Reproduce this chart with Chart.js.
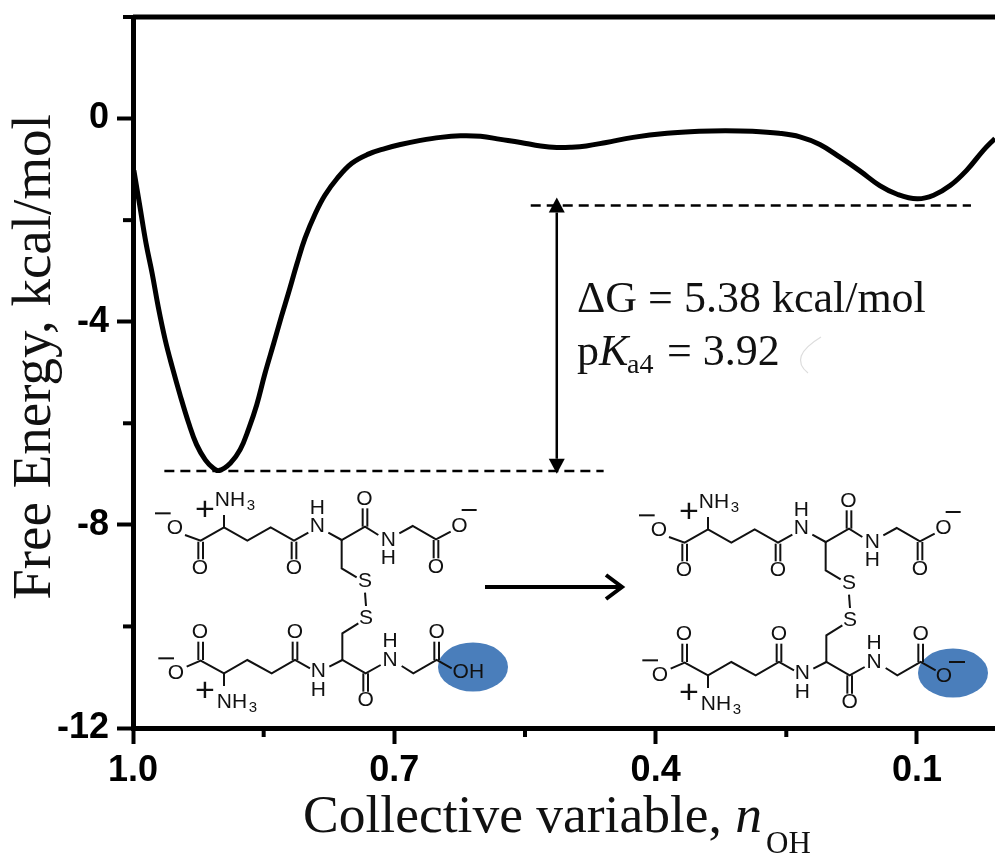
<!DOCTYPE html>
<html lang="en">
<head>
<meta charset="UTF-8">
<title>Free energy profile</title>
<script src="https://cdn.jsdelivr.net/npm/chart.js"></script>
<style>
  html, body { margin: 0; padding: 0; background: #fff; }
  canvas { display: block; }
</style>
</head>
<body>
<canvas id="myChart" width="995" height="854"></canvas>
<script>
// values
const nValues = [0.999, 0.992, 0.985, 0.978, 0.971, 0.963, 0.955, 0.946, 0.936, 0.927, 0.917, 0.908, 0.901, 0.888, 0.877, 0.867, 0.858, 0.8485, 0.8385, 0.8295, 0.8216, 0.8116, 0.8026, 0.7907, 0.7797, 0.7657, 0.7488, 0.7298, 0.7109, 0.693, 0.670, 0.647, 0.624, 0.601, 0.578, 0.555, 0.532, 0.5135, 0.4966, 0.4796, 0.4567, 0.4258, 0.3869, 0.350, 0.320, 0.289, 0.2583, 0.2344, 0.2115, 0.1885, 0.1656, 0.1427, 0.1227, 0.0998, 0.0809, 0.0619, 0.043, 0.024, 0.0104];
const energyValues = [-1.02, -1.74, -2.46, -3.05, -3.71, -4.36, -4.89, -5.44, -6.00, -6.42, -6.72, -6.88, -6.93, -6.78, -6.52, -6.10, -5.64, -5.02, -4.43, -3.89, -3.44, -2.85, -2.36, -1.87, -1.51, -1.18, -0.88, -0.70, -0.59, -0.51, -0.43, -0.37, -0.34, -0.35, -0.41, -0.47, -0.54, -0.57, -0.565, -0.54, -0.47, -0.37, -0.29, -0.25, -0.24, -0.25, -0.29, -0.36, -0.51, -0.76, -1.03, -1.32, -1.49, -1.58, -1.51, -1.32, -1.02, -0.63, -0.39];

const upperDashN = [0.5434, 0.038];
const upperDashE = [-1.71, -1.71];
const lowerDashN = [0.964, 0.4597];
const lowerDashE = [-6.94, -6.94];
const arrowN = [0.5135, 0.5135];
const arrowE = [-1.85, -6.70];

const xMajorTicks = [1.0, 0.7, 0.4, 0.1];
const xMinorTicks = [0.85, 0.55, 0.25];
const yMajorTicks = [0, -4, -8, -12];
const yMinorTicks = [2, -2, -6, -10];

const yTitle = 'Free Energy, kcal/mol';
const xTitle = 'Collective variable, ';

function toPoints(xs, ys) {
  return xs.map((x, i) => ({ x: x, y: ys[i] }));
}

// glutathione disulfide sketch, coordinates in 1/3 px from the inset origin
const molBonds = [
  [165,195,212,212,282,172,352,212,422,172,492,212,535,188],
  [282,172,282,135],
  [595,188,635,210,705,170,745,195],
  [808,190,848,168,918,208,962,185],
  [635,210,635,295,680,322],
  [705,368,708,408],
  [685,460,637,490,637,570],
  [170,590,212,572,282,610,352,570,425,610,495,570,540,595],
  [282,610,282,648],
  [598,590,637,570,707,610,752,585],
  [815,588,850,610,920,570,965,595],
  // double bonds
  [205,215,205,268],[219,215,219,268],
  [485,215,485,268],[499,215,499,268],
  [698,170,698,115],[712,170,712,115],
  [911,210,911,265],[925,210,925,265],
  [205,570,205,515],[219,570,219,515],
  [488,570,488,515],[502,570,502,515],
  [700,610,700,665],[714,610,714,665],
  [913,570,913,515],[927,570,927,515],
  // charges
  [75,130,122,130],[995,120,1040,120],[85,565,132,565]
];
const molAtoms = [
  ['O',135,175],['O',210,295],['O',492,295],['N',562,170],['H',562,115],
  ['O',703,88],['N',775,210],['H',775,265],['O',988,170],['O',918,292],
  ['S',705,335],['S',708,445],
  ['O',138,610],['O',210,488],['O',495,488],['N',565,605],['H',565,660],
  ['O',707,692],['N',780,570],['H',780,515],['O',920,488]
];

function drawMolecule(ctx, ox, oy, acid) {
  ctx.save();
  ctx.translate(ox, oy);
  ctx.strokeStyle = '#111';
  ctx.lineWidth = 2;
  molBonds.forEach(b => {
    ctx.beginPath();
    ctx.moveTo(b[0] / 3, b[1] / 3);
    for (let i = 2; i < b.length; i += 2) ctx.lineTo(b[i] / 3, b[i + 1] / 3);
    ctx.stroke();
  });
  ctx.fillStyle = '#111';
  ctx.textAlign = 'center';
  ctx.textBaseline = 'middle';
  ctx.font = '21px "Liberation Sans"';
  molAtoms.forEach(a => {
    ctx.fillText(a[0], a[1] / 3, a[2] / 3);
  });
  ctx.fillText('NH', 100, 30);
  ctx.fillText('NH', 102, 232);
  if (acid) {
    ctx.fillText('OH', 1015 / 3, 607 / 3);
  } else {
    ctx.fillText('O', 990 / 3, 612 / 3);
    ctx.beginPath();
    ctx.moveTo(1005 / 3, 570 / 3);
    ctx.lineTo(1053 / 3, 570 / 3);
    ctx.stroke();
  }
  ctx.font = '15px "Liberation Sans"';
  ctx.fillText('3', 121, 36);
  ctx.fillText('3', 123, 238);
  ctx.font = '34px "Liberation Sans"';
  ctx.fillText('+', 75, 41);
  ctx.fillText('+', 75, 222);
  ctx.restore();
}

function blob(ctx, cx, cy) {
  ctx.fillStyle = '#4a7ebb';
  ctx.beginPath();
  ctx.ellipse(cx, cy, 35, 24.5, 0, 0, Math.PI * 2);
  ctx.fill();
}

const extras = {
  id: 'extras',
  afterDraw(chart) {
    const ctx = chart.ctx;
    const x = chart.scales.x;
    const y = chart.scales.y;
    const bottom = chart.chartArea.bottom;
    const left = chart.chartArea.left;
    ctx.save();

    // minor ticks and the top frame line
    ctx.strokeStyle = '#000';
    ctx.lineWidth = 4;
    xMinorTicks.forEach(v => {
      const px = x.getPixelForValue(v);
      ctx.beginPath();
      ctx.moveTo(px, bottom);
      ctx.lineTo(px, bottom + 9);
      ctx.stroke();
    });
    yMinorTicks.forEach(v => {
      const py = y.getPixelForValue(v);
      ctx.beginPath();
      ctx.moveTo(left, py);
      ctx.lineTo(left - 10, py);
      ctx.stroke();
    });
    ctx.lineWidth = 5;
    ctx.beginPath();
    ctx.moveTo(left, y.getPixelForValue(2));
    ctx.lineTo(chart.chartArea.right, y.getPixelForValue(2));
    ctx.stroke();

    // arrow heads on the double arrow
    const ax = x.getPixelForValue(arrowN[0]);
    const ay1 = y.getPixelForValue(arrowE[0]);
    const ay2 = y.getPixelForValue(arrowE[1]);
    ctx.fillStyle = '#000';
    ctx.beginPath();
    ctx.moveTo(ax, ay1 - 15);
    ctx.lineTo(ax + 8, ay1);
    ctx.lineTo(ax - 8, ay1);
    ctx.closePath();
    ctx.fill();
    ctx.beginPath();
    ctx.moveTo(ax, ay2 + 15);
    ctx.lineTo(ax + 8, ay2);
    ctx.lineTo(ax - 8, ay2);
    ctx.closePath();
    ctx.fill();

    // annotation text
    ctx.textBaseline = 'alphabetic';
    ctx.textAlign = 'left';
    ctx.fillStyle = '#111';
    ctx.font = '44px "Liberation Serif"';
    ctx.fillText('\u0394G = 5.38 kcal/mol', 577, 312);
    ctx.fillText('p', 577, 365);
    ctx.font = 'italic 44px "Liberation Serif"';
    ctx.fillText('K', 599, 365);
    ctx.font = '28px "Liberation Serif"';
    ctx.fillText('a4', 627, 373);
    ctx.font = '44px "Liberation Serif"';
    ctx.fillText('= 3.92', 667, 365);

    // axis titles
    ctx.font = '53.5px "Liberation Serif"';
    ctx.fillText(xTitle, 303, 832);
    const w = ctx.measureText(xTitle).width;
    ctx.font = 'italic 53.5px "Liberation Serif"';
    ctx.fillText('n', 303 + w, 832);
    ctx.font = '31px "Liberation Serif"';
    ctx.fillText('OH', 766, 853);

    ctx.save();
    ctx.translate(50, 357);
    ctx.rotate(-Math.PI / 2);
    ctx.textAlign = 'center';
    ctx.font = '55px "Liberation Serif"';
    ctx.fillText(yTitle, 0, 0);
    ctx.restore();

    // faint smudge next to the pKa value
    ctx.strokeStyle = '#ddd';
    ctx.lineWidth = 1.2;
    ctx.beginPath();
    ctx.moveTo(821, 337);
    ctx.quadraticCurveTo(788, 357, 808, 373);
    ctx.stroke();

    // reaction arrow
    ctx.strokeStyle = '#000';
    ctx.lineWidth = 4;
    ctx.beginPath();
    ctx.moveTo(485, 587);
    ctx.lineTo(620, 587);
    ctx.moveTo(606, 575);
    ctx.lineTo(622, 587);
    ctx.lineTo(606, 599);
    ctx.stroke();

    // inset structures
    blob(ctx, 473, 667);
    blob(ctx, 953, 673);
    drawMolecule(ctx, 130, 470, true);
    drawMolecule(ctx, 614, 472, false);

    ctx.restore();
  }
};

const tickFont = { family: '"Liberation Sans"', size: 36, weight: 'bold' };

new Chart(document.getElementById('myChart').getContext('2d'), {
  type: 'scatter',
  data: {
    datasets: [
      {
        label: 'Free energy',
        data: toPoints(nValues, energyValues),
        showLine: true,
        borderColor: '#000',
        borderWidth: 5,
        pointRadius: 0,
        tension: 0.4
      },
      {
        label: 'Upper level',
        data: toPoints(upperDashN, upperDashE),
        showLine: true,
        borderColor: '#000',
        borderWidth: 2.5,
        borderDash: [10, 6],
        pointRadius: 0
      },
      {
        label: 'Lower level',
        data: toPoints(lowerDashN, lowerDashE),
        showLine: true,
        borderColor: '#000',
        borderWidth: 2.5,
        borderDash: [10, 6],
        pointRadius: 0
      },
      {
        label: 'Delta G',
        data: toPoints(arrowN, arrowE),
        showLine: true,
        borderColor: '#000',
        borderWidth: 2.5,
        pointRadius: 0
      }
    ]
  },
  options: {
    responsive: false,
    animation: false,
    layout: { padding: { top: 17, right: 0, left: 0, bottom: 0 } },
    plugins: { legend: { display: false }, tooltip: { enabled: false } },
    scales: {
      x: {
        type: 'linear',
        reverse: true,
        min: 0.0104,
        max: 1.0,
        afterBuildTicks: s => { s.ticks = xMajorTicks.map(v => ({ value: v })); },
        afterFit: s => { s.height = 126; s.paddingLeft = 0; s.paddingRight = 0; },
        border: { color: '#000', width: 5 },
        grid: { drawOnChartArea: false, tickLength: 16, tickWidth: 4, tickColor: '#000' },
        ticks: {
          color: '#000',
          font: tickFont,
          padding: 5,
          maxRotation: 0,
          callback: v => v.toFixed(1)
        }
      },
      y: {
        min: -12,
        max: 2,
        afterBuildTicks: s => { s.ticks = yMajorTicks.map(v => ({ value: v })); },
        afterFit: s => { s.width = 133; s.paddingTop = 0; s.paddingBottom = 0; },
        border: { color: '#000', width: 5 },
        grid: { drawOnChartArea: false, tickLength: 16, tickWidth: 4, tickColor: '#000' },
        ticks: { color: '#000', font: tickFont, padding: 8 }
      }
    }
  },
  plugins: [extras]
});
</script>
</body>
</html>
